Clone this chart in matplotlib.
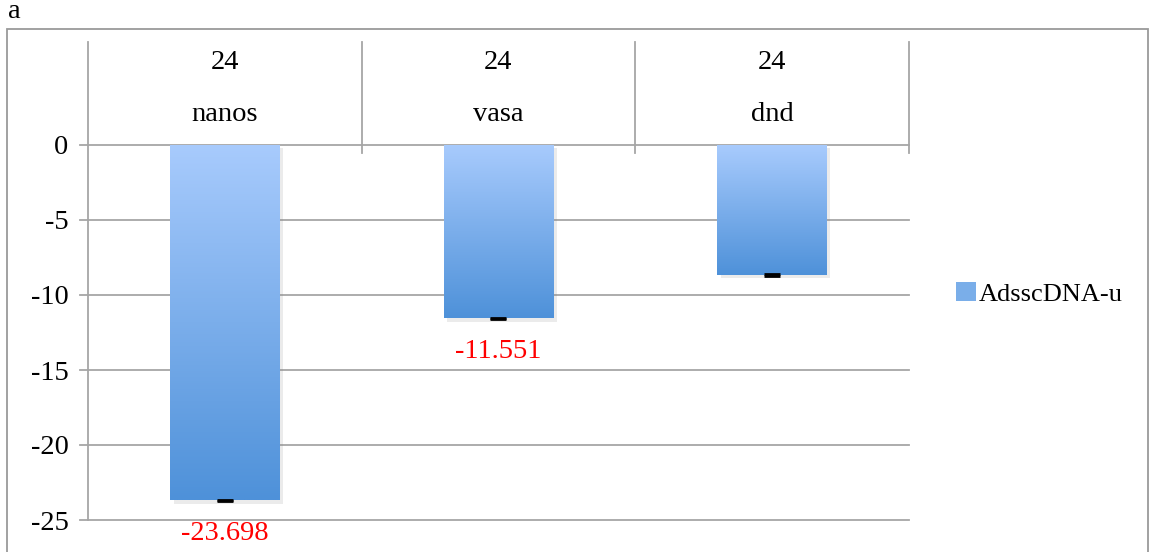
import numpy as np
import matplotlib
matplotlib.use("Agg")
import matplotlib.pyplot as plt
from matplotlib.patches import Rectangle, Patch
from matplotlib.colors import LinearSegmentedColormap
import matplotlib.patheffects as pe

# ---- data ----
categories = ["nanos", "vasa", "dnd"]
group_labels = ["24", "24", "24"]
values = [-23.698, -11.551, -8.65]
errors = [0.05, 0.05, 0.05]
value_labels = ["-23.698", "-11.551", ""]
series_name = "AdsscDNA-u"
yticks = [0, -5, -10, -15, -20, -25]

W, H = 1151, 552
fig = plt.figure(figsize=(W / 100, H / 100), dpi=100)
plt.rcParams['font.family'] = ['Liberation Serif', 'DejaVu Serif']
FS = 20.5
GRID = '#a6a6a6'

# outer frame
fig.patches.append(Rectangle((7.5 / W, -0.02), (1148 - 7.5) / W, (552 - 29) / H + 0.02,
                             transform=fig.transFigure, fill=False, ec='#9a9a9a', lw=1.3))
fig.text(8 / W, 1 - 12 / H, "a", fontsize=FS, va='center', ha='left')

ax = fig.add_axes([88 / W, 1 - 520 / H, (909 - 88) / W, 375 / H])
ax.set_xlim(-0.5, len(categories) - 0.5)
ax.set_ylim(-25, 0)
for s in ['top', 'right', 'bottom', 'left']:
    ax.spines[s].set_visible(False)
ax.set_xticks([])
ax.set_yticks(yticks)
ax.set_yticklabels([str(t) for t in yticks], fontsize=FS)
ax.tick_params(axis='y', length=0, pad=14)
ax.set_axisbelow(True)

# gridlines and tick marks
px = 1.0 / 15  # data units per pixel vertically
for t in yticks:
    ax.plot([-0.5 - 8 / 274, len(categories) - 0.5], [t, t], color=GRID, lw=1.3,
            clip_on=False, zorder=0.5)
# left axis line extending into header
top_y = (145 - 42) / 15
ax.plot([-0.5, -0.5], [-25, top_y], color=GRID, lw=1.3, clip_on=False, zorder=0.5)
for xb in np.arange(0.5, len(categories), 1.0):
    ax.plot([xb, xb], [-8 * px, top_y], color=GRID, lw=1.3, clip_on=False, zorder=0.5)

# bars with gradient
x = np.arange(len(categories))
bars = ax.bar(x, values, width=0.4, color='#7aaee9', zorder=2,
              path_effects=[pe.SimplePatchShadow(offset=(2.5, -2.5), shadow_rgbFace='#7f7f7f', alpha=0.15),
                            pe.Normal()])
cmap = LinearSegmentedColormap.from_list('g', ['#a8cbfd', '#4e91d9'])
grad = np.linspace(0, 1, 256).reshape(-1, 1)
for b in bars:
    x0, w = b.get_x(), b.get_width()
    y0, h = b.get_y(), b.get_height()
    im = ax.imshow(grad, cmap=cmap, aspect='auto', extent=[x0, x0 + w, y0 + h, y0],
                   zorder=2.1, interpolation='bilinear')
    im.set_clip_path(b)
ax.set_xlim(-0.5, len(categories) - 0.5)
ax.set_ylim(-25, 0)

ax.errorbar(x, values, yerr=errors, fmt='none', ecolor='black', elinewidth=1,
            capsize=5.8, capthick=2, zorder=3)

# header labels
for xi, g, c in zip(x, group_labels, categories):
    ax.text(xi, (145 - 63) / 15, g, ha='center', va='center', fontsize=FS, clip_on=False)
    ax.text(xi, (145 - 115) / 15, c, ha='center', va='center', fontsize=FS, clip_on=False)

# value labels
for xi, v, lab in zip(x, values, value_labels):
    if lab:
        ax.annotate(lab, (xi, v), xytext=(0, -33), textcoords='offset pixels',
                    ha='center', va='center', color='#ff0000', fontsize=FS,
                    annotation_clip=False)

# legend
fig.legend(handles=[Patch(facecolor='#7aaee9', edgecolor='none')], labels=[series_name],
           loc='center left', bbox_to_anchor=(956 / W, 1 - 294 / H), frameon=False,
           fontsize=19, handlelength=0.75, handleheight=0.75, handletextpad=0.12,
           borderaxespad=0, borderpad=0)

fig.savefig("out.png", dpi=100)
